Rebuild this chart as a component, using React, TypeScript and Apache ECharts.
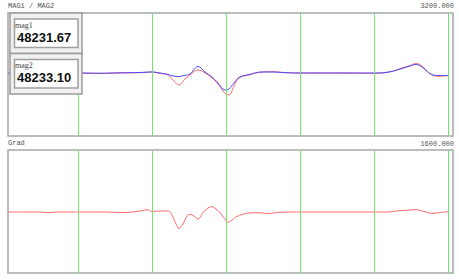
import React, { useEffect, useRef } from "react";
import * as echarts from "echarts";

// x positions in plot units (0..445), y as deviation from baseline
const gridLinesX = [70, 144, 218, 292, 366, 440];

const mag1: [number, number][] = [
  [2, -0.3], [32, -0.3], [62, 0], [92, -0.5], [112, 0], [132, 0.3], [144, 1], [152, -0.5],
  [160, -2], [165, -7], [171, -12], [177, -6], [182, -2], [190, 3], [197, 0], [204, -5],
  [210, -11], [215, -18], [218, -21], [221, -22], [226, -13], [231, -5], [241, -2], [254, 1],
  [264, 1.3], [277, 0.5], [292, 0], [332, 0], [366, -0.3], [381, 1], [394, 5], [402, 7.5],
  [408, 9.5], [414, 7], [418, 3], [424, -2], [431, -3.3], [441, -2.5],
];

const mag2: [number, number][] = [
  [0, 0], [32, 0], [62, 0.2], [92, -0.2], [112, 0.2], [132, 0.5], [144, 1], [152, 0],
  [160, -1.5], [165, -3], [171, -3.5], [176, -2.5], [182, -1], [190, 6.5], [197, 1], [204, -4],
  [210, -10], [215, -16], [218, -17], [221, -16], [226, -10], [231, -4.5], [241, -1.5], [254, 1],
  [264, 1], [277, 0.3], [292, 0], [332, 0], [366, 0], [381, 1], [394, 4.5], [402, 7],
  [408, 8.5], [414, 6], [418, 2.5], [424, -1.5], [431, -2.5], [441, -2.5],
];

const grad: [number, number][] = [
  [0, 0], [30, 0], [40, -0.5], [52, 0], [92, 0], [117, -0.5], [132, 1], [139, 2.3], [144, 0.7],
  [155, 1], [160, 1], [164, -3], [168, -12], [171, -16.3], [175, -12], [179, -4], [182, -2.3],
  [186, -4], [190, -7], [195, -0.5], [200, 4], [204, 5.3], [208, 3], [212, -0.5], [216, -6],
  [220, -10.3], [224, -8], [229, -4.5], [239, -1.3], [249, -0.7], [261, -1.5], [271, -0.3],
  [292, 0], [381, 0], [388, 1], [402, 2], [408, 2.3], [416, 0.5], [424, -1.3], [432, -0.5], [441, 0.3],
];

const topTitle = "MAG1 / MAG2";
const topRange = "3200.000";
const bottomTitle = "Grad";
const bottomRange = "1600.000";
const legendNames = ["mag1", "mag2"];
const legendValues = ["48231.67", "48233.10"];

const GREEN = "#6ee86e";
const RED = "#ff6a6a";
const BLUE = "#4a4aff";
const SMALL_FONT = "Liberation Mono";

export default function App() {
  const ref = useRef<HTMLDivElement>(null);
  useEffect(() => {
    if (!ref.current) return;
    const chart = echarts.init(ref.current, undefined, { renderer: "svg" });
    const markLine = {
      silent: true,
      symbol: "none",
      label: { show: false },
      lineStyle: { color: GREEN, width: 1, type: "solid" as const },
      data: gridLinesX.map((x) => ({ xAxis: x })),
    };
    const legendGraphics: any[] = [];
    legendNames.forEach((name, i) => {
      const y0 = 13 + i * 40.5;
      legendGraphics.push(
        { type: "rect", shape: { x: 10, y: y0, width: 72, height: 40.5 }, style: { fill: "#f0f0f0", stroke: "#9a9a9a", lineWidth: 1.5 }, z: 100 },
        { type: "rect", shape: { x: 14.5, y: y0 + 6, width: 63.5, height: 28.5 }, style: { fill: "#ffffff", stroke: "#a0a0a0", lineWidth: 1.5 }, z: 101 },
        { type: "text", x: 15, y: y0 + 12, style: { text: name, fontSize: 8, fontFamily: "Liberation Serif", fill: "#444", textVerticalAlign: "middle" }, z: 102 },
        { type: "text", x: 17, y: y0 + 24, style: { text: legendValues[i], fontSize: 13, fontWeight: "bold", fontFamily: "Liberation Sans", fill: "#111", textVerticalAlign: "middle" }, z: 102 }
      );
    });
    chart.setOption({
      animation: false,
      backgroundColor: "#ffffff",
      grid: [
        { left: 8, top: 13, width: 445, height: 123, show: true, borderColor: "#a8a8a8", borderWidth: 1.5, backgroundColor: "#fff" },
        { left: 8, top: 150, width: 445, height: 123, show: true, borderColor: "#a8a8a8", borderWidth: 1.5, backgroundColor: "#fff" },
      ],
      xAxis: [0, 1].map((g) => ({
        type: "value", gridIndex: g, min: 0, max: 445,
        axisLine: { show: false }, axisTick: { show: false }, axisLabel: { show: false }, splitLine: { show: false },
      })),
      yAxis: [
        { type: "value", gridIndex: 0, min: -63, max: 60, axisLine: { show: false }, axisTick: { show: false }, axisLabel: { show: false }, splitLine: { show: false } },
        { type: "value", gridIndex: 1, min: -61, max: 62, axisLine: { show: false }, axisTick: { show: false }, axisLabel: { show: false }, splitLine: { show: false } },
      ],
      series: [
        { type: "line", xAxisIndex: 0, yAxisIndex: 0, data: mag1, smooth: 0.4, showSymbol: false, lineStyle: { color: RED, width: 1 }, markLine, z: 3 },
        { type: "line", xAxisIndex: 0, yAxisIndex: 0, data: mag2, smooth: 0.4, showSymbol: false, lineStyle: { color: BLUE, width: 1 }, z: 4 },
        { type: "line", xAxisIndex: 1, yAxisIndex: 1, data: grad, smooth: 0.4, showSymbol: false, lineStyle: { color: RED, width: 1 }, markLine, z: 3 },
      ],
      graphic: [
        { type: "text", x: 8, y: 6, style: { text: topTitle, fontSize: 7, fontFamily: SMALL_FONT, fill: "#555", textVerticalAlign: "middle" } },
        { type: "text", x: 454, y: 6, style: { text: topRange, fontSize: 7, fontFamily: SMALL_FONT, fill: "#555", textAlign: "right", textVerticalAlign: "middle" } },
        { type: "text", x: 8, y: 143, style: { text: bottomTitle, fontSize: 7, fontFamily: SMALL_FONT, fill: "#555", textVerticalAlign: "middle" } },
        { type: "text", x: 454, y: 144, style: { text: bottomRange, fontSize: 7, fontFamily: SMALL_FONT, fill: "#555", textAlign: "right", textVerticalAlign: "middle" } },
        ...legendGraphics,
      ],
    });
    return () => chart.dispose();
  }, []);
  return <div ref={ref} style={{ position: "fixed", left: 0, top: 0, width: 459, height: 280 }} />;
}
